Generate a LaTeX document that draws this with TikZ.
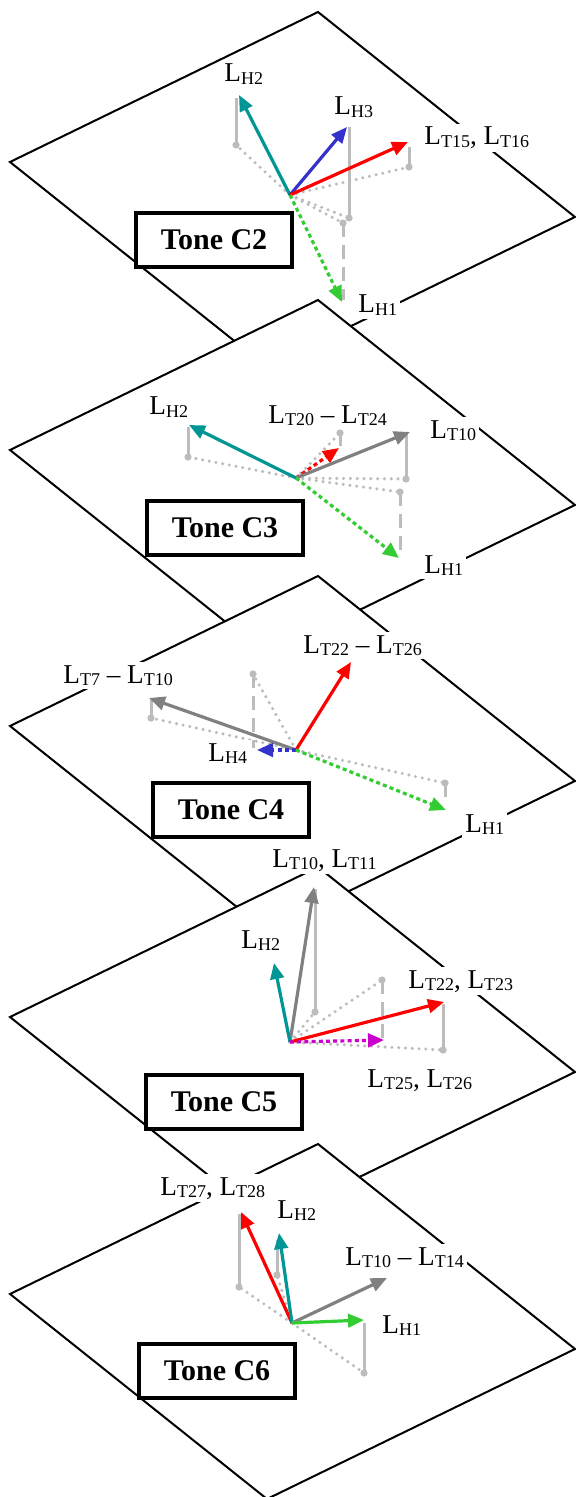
\documentclass[tikz,border=0pt]{standalone}
\usepackage{fontspec}
\setmainfont{Liberation Serif}
\usetikzlibrary{arrows.meta}

\definecolor{vteal}{RGB}{0,150,150}
\definecolor{vblue}{RGB}{51,51,204}
\definecolor{vred}{RGB}{255,0,0}
\definecolor{vgreen}{RGB}{51,204,51}
\definecolor{vgray}{RGB}{128,128,128}
\definecolor{vmag}{RGB}{204,0,204}
\definecolor{projgray}{RGB}{188,188,188}

\begin{document}
\begin{tikzpicture}[x=0.5pt, y=-0.5pt]

% ---- Define Styles ----
\tikzset{
  plane/.style={draw=black, fill=white, line width=1pt, line join=miter},
  vec/.style={line width=1.6pt, -{Triangle[length=8pt,width=6.8pt]}},
  vecdot/.style={vec, dash pattern=on 2pt off 1.6pt},
  proj/.style={draw=projgray, line width=1.7pt, line cap=round, dash pattern=on 0pt off 3.4pt},
  rise/.style={draw=projgray, line width=1.5pt},
  drop/.style={rise, dash pattern=on 7pt off 4pt},
  foot/.style={circle, fill=projgray, inner sep=0pt, minimum size=3.6pt},
  lbl/.style={fill=white, inner sep=1.5pt, anchor=base west, font=\fontsize{13.6}{15}\selectfont},
  tonebox/.style={draw=black, line width=2pt, fill=white, minimum width=78pt,
    minimum height=27pt, font=\fontsize{15}{17}\selectfont\bfseries}
}

% label with low roman subscript
\newcommand{\Lsub}[1]{L\raisebox{-1.3pt}{\fontsize{9}{10}\selectfont #1}}
% one tilted plane, shifted down by #1
\newcommand{\plane}[1]{\path[plane] (318,12+#1) -- (575,217+#1) -- (267,367+#1) -- (10,162+#1) -- cycle;}

\useasboundingbox (0,0) rectangle (576,1497);

% =========================================================
% PLANE 1: Tone C2
% =========================================================
\plane{0}
\coordinate (o1) at (290,195);
\coordinate (c2h2) at (239,95);   \coordinate (c2h2f) at (236,145);
\coordinate (c2h3) at (347,127);  \coordinate (c2h3f) at (349,218);
\coordinate (c2t) at (408,142);   \coordinate (c2tf) at (409,167);
\coordinate (c2h1) at (342,302);  \coordinate (c2h1f) at (343,223);

\draw[proj] (o1) -- (c2h2f);
\draw[proj] (o1) -- (c2h3f);
\draw[proj] (o1) -- (c2tf);
\draw[proj] (o1) -- (c2h1f);
\draw[rise] (c2h2f) -- (236,98);
\draw[rise] (c2h3f) -- (349,127);
\draw[rise] (c2tf) -- (409,147);
\draw[drop] (c2h1f) -- (343,300);
\foreach \f in {c2h2f,c2h3f,c2tf,c2h1f} \node[foot] at (\f) {};

\draw[vec, vteal] (o1) -- (c2h2);
\draw[vec, vblue] (o1) -- (c2h3);
\draw[vec, vred] (o1) -- (c2t);
\draw[vecdot, vgreen] (o1) -- (c2h1);

\node[lbl] (lc2h2) at (221,82) {\Lsub{H2}};
\node[lbl] (lc2h3) at (331,115) {\Lsub{H3}};
\node[lbl] (lc2t) at (421,145) {\Lsub{T15}, \Lsub{T16}};
\node[lbl] (lc2h1) at (355,313) {\Lsub{H1}};
\node[tonebox] (tc2) at (214,240) {Tone C2};

% =========================================================
% PLANE 2: Tone C3
% =========================================================
\plane{288}
\coordinate (o2) at (296,478);
\coordinate (c3h2) at (189,425);  \coordinate (c3h2f) at (188,457);
\coordinate (c3r) at (339,448);   \coordinate (c3rf) at (340,433);
\coordinate (c3t) at (410,432);   \coordinate (c3tf) at (406,479);
\coordinate (c3h1) at (399,558);  \coordinate (c3h1f) at (400,492);

\draw[proj] (o2) -- (c3h2f);
\draw[proj] (o2) -- (c3rf);
\draw[proj] (o2) -- (c3tf);
\draw[proj] (o2) -- (c3h1f);
\draw[rise] (c3h2f) -- (188,427);
\draw[rise] (c3rf) -- (340,446);
\draw[rise] (c3tf) -- (406,434);
\draw[drop] (c3h1f) -- (400,556);
\foreach \f in {c3h2f,c3rf,c3tf,c3h1f} \node[foot] at (\f) {};

\draw[vec, vteal] (o2) -- (c3h2);
\draw[vecdot, vred] (o2) -- (c3r);
\draw[vec, vgray] (o2) -- (c3t);
\draw[vecdot, vgreen] (o2) -- (c3h1);

\node[lbl] (lc3h2) at (146,415) {\Lsub{H2}};
\node[lbl] (lc3r) at (265,423) {\Lsub{T20} -- \Lsub{T24}};
\node[lbl] (lc3t) at (427,438) {\Lsub{T10}};
\node[lbl] (lc3h1) at (421,573) {\Lsub{H1}};
\node[tonebox] (tc3) at (225,528) {Tone C3};

% =========================================================
% PLANE 3: Tone C4
% =========================================================
\plane{564}
\coordinate (o3) at (296,750);
\coordinate (c4t) at (149,698);   \coordinate (c4tf) at (151,718);
\coordinate (c4h4) at (257,750);  \coordinate (c4h4f) at (253,674);
\coordinate (c4r) at (351,662);
\coordinate (c4h1) at (446,810);  \coordinate (c4h1f) at (445,783);

\draw[proj] (o3) -- (c4tf);
\draw[proj] (o3) -- (c4h4f);
\draw[proj] (o3) -- (c4h1f);
\draw[rise] (c4tf) -- (151,700);
\draw[drop] (c4h4f) -- (253,748);
\draw[drop] (c4h1f) -- (445,805);
\foreach \f in {c4tf,c4h4f,c4h1f} \node[foot] at (\f) {};

\draw[vec, vgray] (o3) -- (c4t);
\draw[vecdot, vblue] (o3) -- (c4h4);
\draw[vec, vred] (o3) -- (c4r);
\draw[vecdot, vgreen] (o3) -- (c4h1);

\node[lbl] (lc4t) at (60,683) {\Lsub{T7} -- \Lsub{T10}};
\node[lbl] (lc4h4) at (205,761) {\Lsub{H4}};
\node[lbl] (lc4r) at (300,653) {\Lsub{T22} -- \Lsub{T26}};
\node[lbl] (lc4h1) at (462,832) {\Lsub{H1}};
\node[tonebox] (tc4) at (231,810) {Tone C4};

% =========================================================
% PLANE 4: Tone C5
% =========================================================
\plane{855}
\coordinate (o4) at (290,1042);
\coordinate (c5t) at (314,887);   \coordinate (c5tf) at (315,1012);
\coordinate (c5h2) at (274,963);
\coordinate (c5r) at (444,1002);  \coordinate (c5rf) at (443,1050);
\coordinate (c5m) at (384,1040);  \coordinate (c5mf) at (382,980);

\draw[proj] (o4) -- (c5tf);
\draw[proj] (o4) -- (c5rf);
\draw[proj] (o4) -- (c5mf);
\draw[rise] (c5tf) -- (315,889);
\draw[rise] (c5rf) -- (443,1004);
\draw[drop] (c5mf) -- (382,1038);
\foreach \f in {c5tf,c5rf,c5mf} \node[foot] at (\f) {};

\draw[vec, vgray] (o4) -- (c5t);
\draw[vec, vteal] (o4) -- (c5h2);
\draw[vec, vred] (o4) -- (c5r);
\draw[vecdot, vmag] (o4) -- (c5m);

\node[lbl] (lc5t) at (269,867) {\Lsub{T10}, \Lsub{T11}};
\node[lbl] (lc5h2) at (238,948) {\Lsub{H2}};
\node[lbl] (lc5r) at (405,988) {\Lsub{T22}, \Lsub{T23}};
\node[lbl] (lc5m) at (364,1087) {\Lsub{T25}, \Lsub{T26}};
\node[tonebox] (tc5) at (224,1102) {Tone C5};

% =========================================================
% PLANE 5: Tone C6
% =========================================================
\plane{1132}
\coordinate (o5) at (292,1323);
\coordinate (c6r) at (241,1212);  \coordinate (c6rf) at (239,1287);
\coordinate (c6h2) at (279,1233); \coordinate (c6h2f) at (277,1275);
\coordinate (c6t) at (387,1278);
\coordinate (c6h1) at (364,1320); \coordinate (c6h1f) at (364,1373);

\draw[proj] (o5) -- (c6rf);
\draw[proj] (o5) -- (c6h2f);
\draw[proj] (o5) -- (c6h1f);
\draw[rise] (c6rf) -- (239,1214);
\draw[rise] (c6h2f) -- (277,1240);
\draw[rise] (c6h1f) -- (364,1323);
\foreach \f in {c6rf,c6h2f,c6h1f} \node[foot] at (\f) {};

\draw[vec, vred] (o5) -- (c6r);
\draw[vec, vteal] (o5) -- (c6h2);
\draw[vec, vgray] (o5) -- (c6t);
\draw[vec, vgreen] (o5) -- (c6h1);

\node[lbl] (lc6r) at (157,1195) {\Lsub{T27}, \Lsub{T28}};
\node[lbl] (lc6h2) at (274,1218) {\Lsub{H2}};
\node[lbl] (lc6t) at (342,1265) {\Lsub{T10} -- \Lsub{T14}};
\node[lbl] (lc6h1) at (379,1333) {\Lsub{H1}};
\node[tonebox] (tc6) at (217,1371) {Tone C6};

\end{tikzpicture}
\end{document}
